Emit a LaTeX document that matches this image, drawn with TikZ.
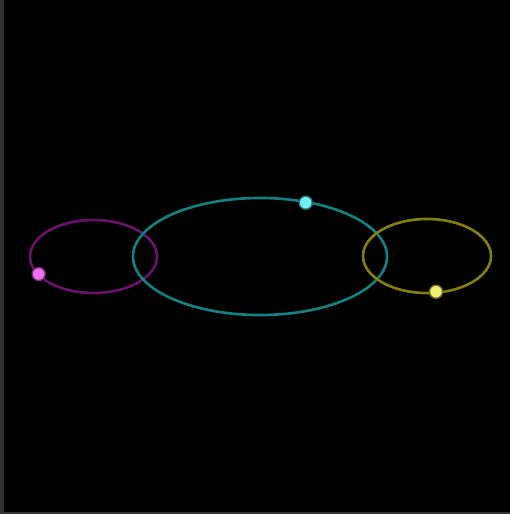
\documentclass[tikz,border=0pt]{standalone}
\usepackage{tikz}
\definecolor{orbitm}{HTML}{6A126A}
\definecolor{orbitc}{HTML}{158080}
\definecolor{orbity}{HTML}{80800E}
\definecolor{dotm}{HTML}{F070F0}
\definecolor{dotc}{HTML}{70F0F0}
\definecolor{doty}{HTML}{F0F070}
\definecolor{edge}{HTML}{333333}

\begin{document}
\begin{tikzpicture}[x=0.02cm, y=-0.02cm,
  orbit/.style={line width=1.5pt},
  planet/.style={circle, inner sep=0pt, minimum size=0.23cm},
  glow/.style={circle, inner sep=0pt, minimum size=0.29cm}]
  \useasboundingbox (0,0) rectangle (510,514);
  \fill[black] (0,0) rectangle (510,514);
  \fill[edge] (0,0) rectangle (4,514);
  \fill[edge] (0,512) rectangle (510,514);
  \draw[orbit, orbitm] (93.5,256.5) ellipse [x radius=63.5, y radius=36.5];
  \draw[orbit, orbitc] (260,256.5) ellipse [x radius=127, y radius=58.5];
  \draw[orbit, orbity] (427,256) ellipse [x radius=64, y radius=37];
  \node[glow, fill=dotm!45!black] at (38.7,274) {};
  \node[glow, fill=dotc!45!black] at (305.7,202.7) {};
  \node[glow, fill=doty!45!black] at (436,291.7) {};
  \node[planet, fill=dotm] (pm) at (38.7,274) {};
  \node[planet, fill=dotc] (pc) at (305.7,202.7) {};
  \node[planet, fill=doty] (py) at (436,291.7) {};
\end{tikzpicture}
\end{document}
